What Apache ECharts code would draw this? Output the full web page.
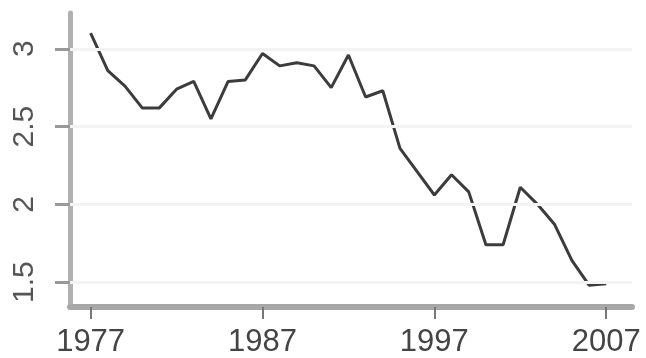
<!DOCTYPE html>
<html>
<head>
<meta charset="utf-8">
<script src="https://cdn.jsdelivr.net/npm/echarts@6/dist/echarts.min.js"></script>
<style>
  html, body { margin: 0; padding: 0; background: #fff; }
  #chart { width: 646px; height: 358px; }
</style>
</head>
<body>
<div id="chart"></div>
<script>
// years 1977..2007, one value each
const years = [1977, 1978, 1979, 1980, 1981, 1982, 1983, 1984, 1985, 1986,
  1987, 1988, 1989, 1990, 1991, 1992, 1993, 1994, 1995, 1996,
  1997, 1998, 1999, 2000, 2001, 2002, 2003, 2004, 2005, 2006, 2007];
const values = [3.10, 2.86, 2.76, 2.62, 2.62, 2.74, 2.79, 2.55, 2.79, 2.80,
  2.97, 2.89, 2.91, 2.89, 2.75, 2.96, 2.69, 2.73, 2.36, 2.21,
  2.06, 2.19, 2.08, 1.74, 1.74, 2.11, 2.00, 1.87, 1.64, 1.48, 1.49];
const xTicks = [1977, 1987, 1997, 2007];
const yTicks = [1.5, 2, 2.5, 3];

let chart = echarts.init(document.getElementById('chart'));
let option = {
  animation: false,
  grid: { left: 70, right: 14, top: 13, bottom: 49 },
  xAxis: {
    type: 'value',
    min: 1975.8,
    max: 2008.5,
    axisLine: { lineStyle: { color: '#a8a8a8', width: 6 } },
    axisTick: {
      customValues: xTicks,
      length: 12,
      lineStyle: { color: '#777', width: 2 }
    },
    axisLabel: {
      customValues: xTicks,
      formatter: v => String(v),
      margin: 20,
      fontSize: 31,
      color: '#444',
      fontFamily: 'Liberation Sans'
    },
    splitLine: { show: false }
  },
  yAxis: {
    type: 'value',
    min: 1.34,
    max: 3.23,
    axisLine: { show: true, lineStyle: { color: '#b0b0b0', width: 5 } },
    axisTick: {
      show: true,
      customValues: yTicks,
      length: 15,
      lineStyle: { color: '#999', width: 3 }
    },
    axisLabel: {
      customValues: yTicks,
      rotate: 90,
      margin: 30,
      fontSize: 30,
      color: '#555',
      fontFamily: 'Liberation Sans'
    },
    splitLine: { show: false }
  },
  series: [
    {
      // faint horizontal gridlines
      type: 'line',
      data: [],
      z: 1,
      silent: true,
      markLine: {
        silent: true,
        symbol: 'none',
        label: { show: false },
        lineStyle: { color: '#f3f3f3', width: 3, type: 'solid' },
        data: yTicks.map(v => ({ yAxis: v }))
      }
    },
    {
      type: 'line',
      z: 3,
      symbol: 'none',
      lineStyle: { color: '#3c3c3c', width: 3 },
      data: years.map((y, i) => [y, values[i]])
    }
  ]
};
chart.setOption(option);
</script>
</body>
</html>
